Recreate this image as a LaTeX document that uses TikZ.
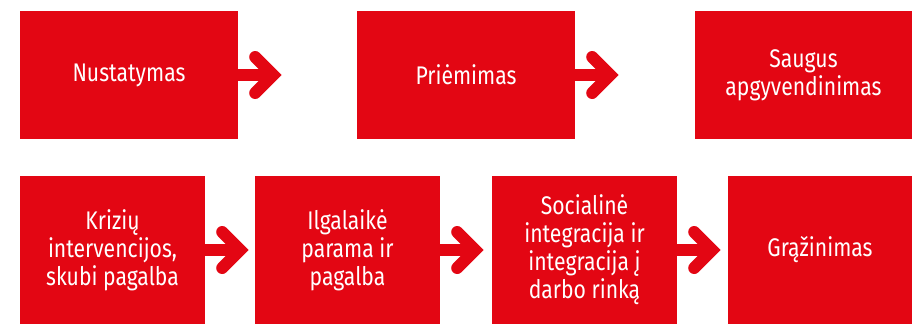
\documentclass[tikz,border=0pt]{standalone}
\usepackage{fontspec}
\setmainfont{Fira Sans}[FakeStretch=0.83]
\usetikzlibrary{calc}
\definecolor{mainRed}{HTML}{E30613}

\begin{document}
\begin{tikzpicture}[x=1pt, y=-1pt,
    box/.style={fill=mainRed, text=white, align=center, inner sep=0pt, font=\fontsize{25.5}{28}\selectfont},
    topbox/.style={box, minimum width=218pt, minimum height=128pt},
    lowbox/.style={box, minimum width=185pt, minimum height=148pt},
    shaft/.style={draw=mainRed, line width=12pt},
    head/.style={draw=mainRed, line width=12pt, line cap=round, line join=miter}]
    \useasboundingbox (0,0) rectangle (912,324);

    % top row
    \node[topbox] (nust) at (129,75) {Nustatymas};
    \node[topbox] (prie) at (466,75) {Priėmimas};
    \node[topbox] (saug) at (803.5,75) {Saugus\\apgyvendinimas};

    % bottom row
    \node[lowbox] (kriz) at (112.5,250) {Krizių\\intervencijos,\\skubi pagalba};
    \node[lowbox] (ilga) at (347.5,250) {Ilgalaikė\\parama ir\\pagalba};
    \node[lowbox] (soc) at (584.5,250) {Socialinė\\integracija ir\\integracija į\\darbo rinką};
    \node[lowbox] (graz) at (820,250) {Grąžinimas};

    % arrows
    \foreach \a in {nust, prie, kriz, ilga, soc} {
        \coordinate (\a-tip) at ($(\a.east)+(35,0)$);
        \draw[shaft] (\a.east) -- (\a-tip);
        \draw[head] ($(\a-tip)+(-18,-18)$) -- (\a-tip) -- ($(\a-tip)+(-18,18)$);
    }
\end{tikzpicture}
\end{document}
